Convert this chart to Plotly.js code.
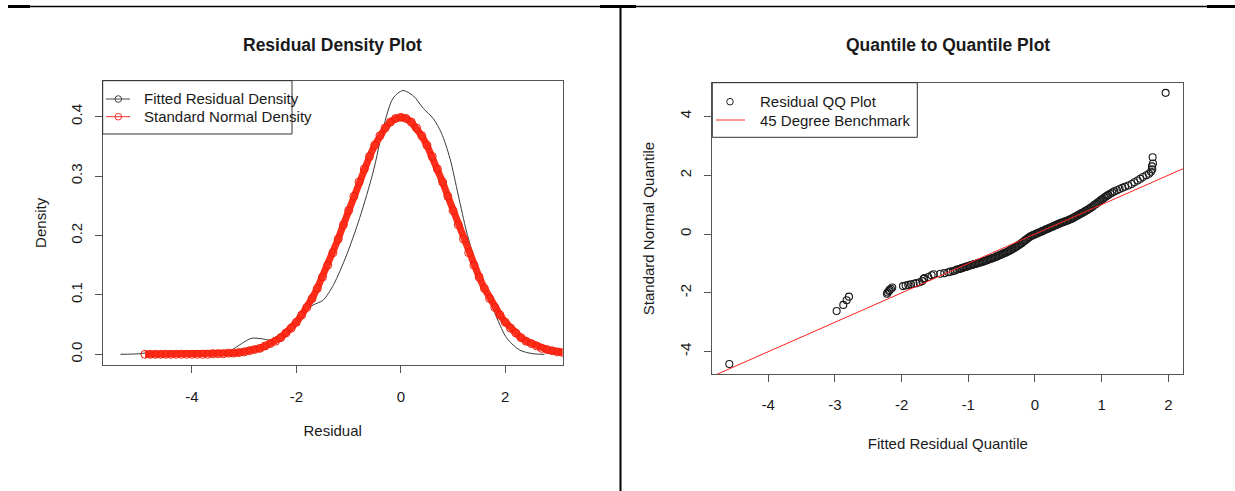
<!DOCTYPE html>
<html>
<head>
<meta charset="utf-8">
<script src="https://cdn.plot.ly/plotly-3.0.1.min.js"></script>
<style>
html,body{margin:0;padding:0;background:#fff;}
#chart{width:1235px;height:491px;}
</style>
</head>
<body>
<div id="chart"></div>
<script>
// ---------------- DATA ----------------
// Left panel: fitted residual kernel density
const densX = [-5.37,-5.0,-4.75,-4.5,-4.2,-3.85,-3.5,-3.25,-3.05,-2.86,-2.65,-2.5,-2.35,-2.19,-1.93,-1.68,-1.49,-1.29,-1.04,-0.79,-0.53,-0.34,-0.15,0.04,0.24,0.43,0.62,0.78,0.94,1.10,1.26,1.45,1.64,1.84,2.03,2.28,2.53,2.75];
const densY = [0.000,0.001,0.004,0.005,0.003,0.002,0.003,0.007,0.018,0.027,0.026,0.024,0.032,0.044,0.066,0.083,0.091,0.117,0.167,0.229,0.307,0.380,0.431,0.444,0.435,0.414,0.397,0.372,0.330,0.268,0.206,0.150,0.105,0.061,0.027,0.007,0.001,0.000];

// Left panel: standard normal density
const normX = [-4.9,-4.8,-4.7,-4.6,-4.5,-4.4,-4.3,-4.2,-4.1,-4.0,-3.9,-3.8,-3.7,-3.6,-3.5,-3.4,-3.3,-3.2,-3.1,-3.0,-2.9,-2.8,-2.7,-2.6,-2.5,-2.4,-2.3,-2.2,-2.1,-2.0,-1.9,-1.8,-1.7,-1.6,-1.5,-1.4,-1.3,-1.2,-1.1,-1.0,-0.9,-0.8,-0.7,-0.6,-0.5,-0.4,-0.3,-0.2,-0.1,0.0,0.1,0.2,0.3,0.4,0.5,0.6,0.7,0.8,0.9,1.0,1.1,1.2,1.3,1.4,1.5,1.6,1.7,1.8,1.9,2.0,2.1,2.2,2.3,2.4,2.5,2.6,2.7,2.8,2.9,3.0,3.1,3.2,3.3];
const normY = [0.000,0.000,0.000,0.000,0.000,0.000,0.000,0.000,0.000,0.000,0.000,0.000,0.000,0.001,0.001,0.001,0.002,0.002,0.003,0.004,0.006,0.008,0.010,0.014,0.018,0.022,0.028,0.036,0.044,0.054,0.066,0.079,0.094,0.111,0.130,0.150,0.171,0.194,0.218,0.242,0.266,0.290,0.312,0.333,0.352,0.368,0.381,0.391,0.397,0.399,0.397,0.391,0.381,0.368,0.352,0.333,0.312,0.290,0.266,0.242,0.218,0.194,0.171,0.150,0.130,0.111,0.094,0.079,0.066,0.054,0.044,0.036,0.028,0.022,0.018,0.014,0.010,0.008,0.006,0.004,0.003,0.002,0.002];

// Right panel: QQ points (fitted residual quantile, standard normal quantile)
const qqX = [-4.585,-2.975,-2.875,-2.825,-2.79,-2.22,-2.21,-2.19,-2.18,-2.16,-2.14,-1.98,-1.94,-1.90,-1.86,-1.82,-1.78,-1.73,-1.69,-1.67,-1.66,-1.60,-1.55,-1.52,-1.42,-1.36,-1.30,-1.27,-1.23,-1.20,-1.17,-1.14,-1.12,-1.10,-1.08,-1.06,-1.04,-1.02,-1.00,-0.98,-0.96,-0.94,-0.92,
  -0.90,-0.88,-0.86,-0.84,-0.82,-0.80,-0.78,-0.76,-0.74,-0.72,-0.70,-0.68,-0.66,-0.64,-0.62,-0.60,-0.58,-0.56,-0.54,-0.52,-0.50,-0.48,-0.46,-0.44,-0.42,-0.40,-0.38,-0.36,-0.34,-0.32,-0.30,-0.28,-0.26,-0.24,-0.22,-0.20,-0.18,-0.16,-0.14,-0.12,-0.10,-0.08,-0.06,-0.04,-0.02,0.00,
  0.02,0.04,0.06,0.08,0.10,0.12,0.14,0.16,0.18,0.20,0.22,0.24,0.26,0.28,0.30,0.32,0.34,0.36,0.38,0.40,0.42,0.44,0.46,0.48,0.50,0.52,0.54,0.56,0.58,0.60,0.62,0.64,0.66,0.68,0.70,0.72,0.74,0.76,0.78,0.80,0.82,0.84,0.86,0.88,0.90,0.92,0.94,0.96,0.98,1.00,1.02,1.04,1.06,1.08,1.10,1.13,
  1.16,1.19,1.23,1.27,1.31,1.35,1.40,1.45,1.49,1.54,1.58,1.62,1.67,1.71,1.74,1.76,1.755,1.77,1.765,1.96];
const qqY = [-4.42,-2.62,-2.41,-2.25,-2.13,-2.03,-1.99,-1.94,-1.90,-1.86,-1.82,-1.77,-1.75,-1.73,-1.71,-1.69,-1.67,-1.64,-1.60,-1.53,-1.50,-1.46,-1.40,-1.37,-1.35,-1.33,-1.30,-1.28,-1.26,-1.24,-1.21,-1.19,-1.18,-1.16,-1.15,-1.13,-1.12,-1.10,-1.09,-1.07,-1.06,-1.05,-1.03,
  -1.02,-1.01,-0.99,-0.98,-0.97,-0.95,-0.94,-0.92,-0.91,-0.89,-0.87,-0.86,-0.84,-0.82,-0.81,-0.79,-0.77,-0.75,-0.73,-0.71,-0.69,-0.67,-0.65,-0.63,-0.61,-0.59,-0.56,-0.54,-0.51,-0.49,-0.46,-0.43,-0.40,-0.37,-0.34,-0.31,-0.27,-0.24,-0.20,-0.17,-0.13,-0.10,-0.07,-0.05,-0.03,-0.01,
  0.01,0.03,0.05,0.07,0.09,0.11,0.13,0.15,0.17,0.19,0.21,0.23,0.25,0.27,0.29,0.31,0.33,0.35,0.37,0.39,0.40,0.42,0.44,0.45,0.47,0.49,0.51,0.53,0.56,0.58,0.61,0.63,0.66,0.68,0.71,0.73,0.76,0.79,0.81,0.84,0.87,0.90,0.93,0.97,1.00,1.03,1.07,1.10,1.14,1.17,1.20,1.24,1.27,1.30,1.33,1.37,
  1.41,1.45,1.49,1.53,1.57,1.61,1.65,1.70,1.76,1.82,1.88,1.94,2.00,2.05,2.12,2.20,2.30,2.40,2.61,4.80];

// 45 degree benchmark line: intercept, slope and x extent
const benchIntercept = 0, benchSlope = 1;
const benchX = [-6, 3];

// Tick labels
const leftXTicks = [-4, -2, 0, 2];
const leftYTicks = [0.0, 0.1, 0.2, 0.3, 0.4];
const leftYTickText = ['0.0', '0.1', '0.2', '0.3', '0.4'];
const rightXTicks = [-4, -3, -2, -1, 0, 1, 2];
const rightYTicks = [-4, -2, 0, 2, 4];

// Text
const leftTitle = 'Residual Density Plot';
const rightTitle = 'Quantile to Quantile Plot';
const leftLegend = ['Fitted Residual Density', 'Standard Normal Density'];
const rightLegend = ['Residual QQ Plot', '45 Degree Benchmark'];

// ---------------- LAYOUT HELPERS ----------------
const W = 1235, H = 491;
const PX = p => p / W;
const PY = p => 1 - p / H;
const FONT = 'Liberation Sans, Arial, Helvetica, sans-serif';
const FS = 15;
const TXT = '#1a1a1a';
const AX = '#555';

const benchY = benchX.map(x => benchIntercept + benchSlope * x);

const traces = [
  {x: densX, y: densY, xaxis: 'x', yaxis: 'y', mode: 'lines', type: 'scatter',
   line: {color: '#3a3a3a', width: 1, shape: 'spline', smoothing: 0.8}, showlegend: false, hoverinfo: 'skip'},
  {x: normX, y: normY, xaxis: 'x', yaxis: 'y', mode: 'lines+markers', type: 'scatter',
   line: {color: 'rgb(255,45,25)', width: 7},
   marker: {symbol: 'circle-open', size: 8, color: 'rgb(240,30,10)', line: {width: 1}},
   showlegend: false, hoverinfo: 'skip'},
  {x: qqX, y: qqY, xaxis: 'x2', yaxis: 'y2', mode: 'markers', type: 'scatter',
   marker: {symbol: 'circle-open', size: 7, color: '#1a1a1a', line: {width: 1.1}},
   showlegend: false, hoverinfo: 'skip'},
  {x: benchX, y: benchY, xaxis: 'x2', yaxis: 'y2', mode: 'lines', type: 'scatter',
   line: {color: '#ff2020', width: 1}, showlegend: false, hoverinfo: 'skip'}
];

const axisBase = {
  showline: true, mirror: true, linecolor: AX, linewidth: 1,
  ticks: 'outside', ticklen: 7, tickcolor: AX, tickwidth: 1,
  showgrid: false, zeroline: false, fixedrange: true,
  tickfont: {family: FONT, size: FS, color: TXT}
};

const layout = {
  width: W, height: H,
  margin: {l: 0, r: 0, t: 0, b: 0, pad: 0},
  paper_bgcolor: '#fff', plot_bgcolor: '#fff',
  showlegend: false,
  font: {family: FONT, size: FS, color: TXT},
  xaxis: Object.assign({}, axisBase, {
    domain: [PX(102.7), PX(562.7)], range: [-5.71, 3.10], anchor: 'y',
    tickmode: 'array', tickvals: leftXTicks, ticktext: leftXTicks.map(String),
    ticklabelstandoff: 11,
    title: {text: 'Residual', font: {family: FONT, size: FS, color: TXT}, standoff: 21}
  }),
  yaxis: Object.assign({}, axisBase, {
    domain: [PY(365), PY(80.7)], range: [-0.018, 0.4606], anchor: 'x',
    tickmode: 'array', tickvals: leftYTicks, ticktext: leftYTickText, tickangle: -90,
    ticklabelstandoff: 7,
    title: {text: 'Density', font: {family: FONT, size: FS, color: TXT}, standoff: 17}
  }),
  xaxis2: Object.assign({}, axisBase, {
    domain: [PX(712.3), PX(1183.3)], range: [-4.84, 2.225], anchor: 'y2',
    tickmode: 'array', tickvals: rightXTicks, ticktext: rightXTicks.map(String),
    ticklabelstandoff: 10,
    title: {text: 'Fitted Residual Quantile', font: {family: FONT, size: FS, color: TXT}, standoff: 26}
  }),
  yaxis2: Object.assign({}, axisBase, {
    domain: [PY(374.3), PY(82.7)], range: [-4.77, 5.146], anchor: 'x2',
    tickmode: 'array', tickvals: rightYTicks, ticktext: rightYTicks.map(String), tickangle: -90,
    ticklabelstandoff: 7,
    title: {text: 'Standard Normal Quantile', font: {family: FONT, size: FS, color: TXT}, standoff: 19}
  }),
  annotations: [],
  shapes: []
};

function ann(text, px, py, opts) {
  layout.annotations.push(Object.assign({
    text: text, xref: 'paper', yref: 'paper', x: PX(px), y: PY(py),
    xanchor: 'center', yanchor: 'middle', showarrow: false,
    font: {family: FONT, size: FS, color: TXT}
  }, opts || {}));
}
function seg(x0, y0, x1, y1, color, width) {
  layout.shapes.push({type: 'line', xref: 'paper', yref: 'paper',
    x0: PX(x0), y0: PY(y0), x1: PX(x1), y1: PY(y1), line: {color: color, width: width}, layer: 'above'});
}
function rect(x0, y0, x1, y1, color) {
  layout.shapes.push({type: 'rect', xref: 'paper', yref: 'paper',
    x0: PX(x0), y0: PY(y1), x1: PX(x1), y1: PY(y0), line: {color: color, width: 1},
    fillcolor: 'rgba(0,0,0,0)', layer: 'above'});
}
function circ(cx, cy, r, color) {
  layout.shapes.push({type: 'circle', xref: 'paper', yref: 'paper',
    x0: PX(cx - r), x1: PX(cx + r), y0: PY(cy + r), y1: PY(cy - r),
    line: {color: color, width: 1}, fillcolor: 'rgba(0,0,0,0)', layer: 'above'});
}

// Plot titles
ann('<b>' + leftTitle + '</b>', 332.7, 45, {font: {family: FONT, size: 17.5, color: TXT}});
ann('<b>' + rightTitle + '</b>', 947.8, 45, {font: {family: FONT, size: 17.5, color: TXT}});

// Left legend
rect(102.7, 80.7, 292, 134, '#333');
seg(106, 99, 130, 99, '#444', 1); circ(118.3, 99, 3.3, '#444');
seg(106, 116.7, 130, 116.7, '#ff3030', 1); circ(118.3, 116.7, 3.3, '#ff3030');
ann(leftLegend[0], 141.7, 99, {xanchor: 'left'});
ann(leftLegend[1], 141.7, 116.7, {xanchor: 'left'});

// Right legend
rect(712.3, 82.7, 917.3, 137.3, '#333');
circ(730, 101.7, 3.3, '#222');
seg(716, 120, 745, 120, '#ff3030', 1);
ann(rightLegend[0], 757.7, 101.7, {xanchor: 'left'});
ann(rightLegend[1], 757.7, 120, {xanchor: 'left'});

// Table borders
seg(8, 6.5, 1235, 6.5, '#000', 1.3);
seg(8, 6.5, 30, 6.5, '#000', 3);
seg(600, 6.5, 636, 6.5, '#000', 3);
seg(1207, 6.5, 1235, 6.5, '#000', 3);
seg(620.5, 6, 620.5, 491, '#000', 2);

Plotly.newPlot('chart', traces, layout, {displayModeBar: false, staticPlot: true});
</script>
</body>
</html>
